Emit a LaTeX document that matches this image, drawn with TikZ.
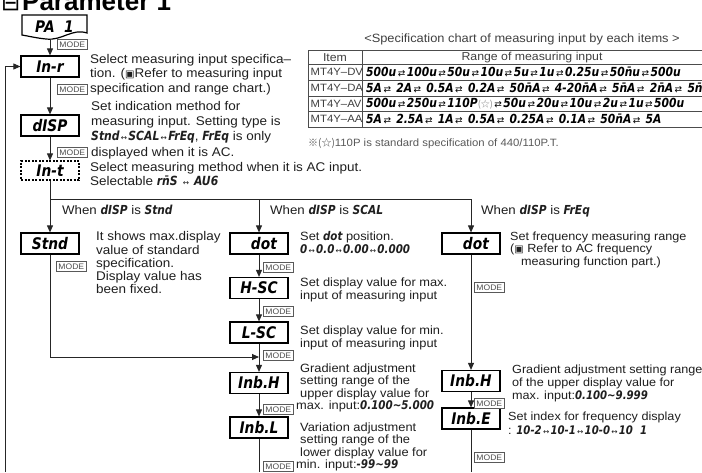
\documentclass[tikz,border=0pt]{standalone}
\usepackage{fontspec}
\usetikzlibrary{arrows.meta}
\setmainfont{Liberation Sans}[FakeStretch=1.07]
\newfontfamily\titlefont{Liberation Sans}
\newfontfamily\segfont{DejaVu Sans}[FakeStretch=0.86]
\newfontfamily\symfont{DejaVu Sans}
\newfontfamily\cjk{Noto Sans CJK SC}
\newcommand\sg[1]{{\segfont\bfseries\itshape #1}}
\newcommand\mylr{{\symfont\mdseries\upshape\fontsize{7.5}{7.5}\selectfont\,↔\,}}
\newcommand\myrl{{\symfont\mdseries\upshape\fontsize{9}{9}\selectfont\,⇄\,}}
\newcommand\boxsq{{\symfont\fontsize{10}{10}\selectfont ▣}}
\begin{document}
\begin{tikzpicture}[x=1pt,y=-1pt,
  disp/.style={draw, line width=1.2pt, fill=white, minimum width=58pt, minimum height=21pt, inner sep=0pt,
    font=\segfont\bfseries\itshape\fontsize{16}{16}\selectfont},
  modetag/.style={draw=black!65, line width=0.6pt, fill=white, minimum width=30pt, minimum height=10pt,
    inner sep=0pt, anchor=north west, text=black!70, font=\fontsize{8}{8}\selectfont},
  conn/.style={line width=0.9pt, draw=black!85},
  arr/.style={conn, -{Triangle[length=7pt,width=6pt]}},
  txt/.style 2 args={anchor=north west, inner sep=0pt, align=left, text=black!88, font=\fontsize{#1}{#2}\selectfont},
  lbl/.style={anchor=base west, inner sep=0pt, text=black!88, font=\fontsize{12.4}{14}\selectfont},
  tbl/.style={line width=0.8pt, draw=black!70},
  tabtxt/.style={inner sep=0pt, text=black!75, font=\fontsize{11.5}{13}\selectfont},
  rowlbl/.style={inner sep=0pt, anchor=west, text=black!75, font=\fontsize{10.6}{13}\selectfont},
  vals/.style={anchor=west, inner sep=0pt, font=\segfont\bfseries\itshape\fontsize{12.5}{12.5}\selectfont}
]
\useasboundingbox (0,0) rectangle (702,472);
\fill[white] (0,0) rectangle (702,472);

% title
\node[anchor=base west, inner sep=0pt, font=\symfont\fontsize{23}{23}\selectfont] (tsym) at (1,10) {⊟};
\node[anchor=base west, inner sep=0pt, font=\titlefont\bfseries\fontsize{26}{26}\selectfont] (title) at (22,10.5) {Parameter 1};

% PA 1 document shape
\draw[line width=1.2pt, fill=white] (22,15) -- (87,15) -- (87,33)
  .. controls (72,28) and (62,41) .. (46,39) .. controls (36,38) and (28,36) .. (22,35) -- cycle;
\node[minimum width=65pt, minimum height=24pt, inner sep=0pt,
  font=\segfont\bfseries\itshape\fontsize{16}{16}\selectfont] (pa) at (54.5,27) {\raisebox{1.5pt}{PA\ \ 1}};

% left column
\node[disp] (ir) at (50,66.5) {In-r};
\node[disp] (dsp) at (50,125.5) {dISP};
\node[disp, minimum height=19pt, dash pattern=on 2pt off 1.5pt] (int) at (50,170.5) {In-t};
\node[disp] (stnd) at (50,243.5) {Stnd};

% middle column
\node[disp] (dot2) at (259,243.5) {\hphantom{d}dot};
\node[disp] (hsc) at (259,288) {H-SC};
\node[disp] (lsc) at (259,332.5) {L-SC};
\node[disp] (ibh2) at (259,383) {Inb.H};
\node[disp] (ibl) at (259,427.5) {Inb.L};

% right column
\node[disp] (dot3) at (471,243.5) {\hphantom{d}dot};
\node[disp] (ibh3) at (471,381) {Inb.H};
\node[disp] (ibe) at (471,418.5) {Inb.E};

% connectors
\coordinate (br) at (50,199);
\coordinate (jn) at (259,357);
\coordinate (b1) at (5,472);
\coordinate (b2) at (259,472);
\coordinate (b3) at (471,472);
\draw[arr] (pa.south -| ir.north) -- (ir.north);
\draw[arr] (ir.south) -- (dsp.north);
\draw[arr] (dsp.south) -- (int.north);
\draw[arr] (int.south) -- (stnd.north);
\draw[conn] (br) -- (br -| dot3.north);
\draw[arr] (br -| dot2.north) -- (dot2.north);
\draw[arr] (br -| dot3.north) -- (dot3.north);
\draw[arr] (stnd.south) |- (jn);
\draw[arr] (b1) |- (ir.west);
\draw[arr] (dot2.south) -- (hsc.north);
\draw[arr] (hsc.south) -- (lsc.north);
\draw[arr] (lsc.south) -- (ibh2.north);
\draw[arr] (ibh2.south) -- (ibl.north);
\draw[conn] (ibl.south) -- (b2);
\draw[arr] (dot3.south) -- (ibh3.north);
\draw[arr] (ibh3.south) -- (ibe.north);
\draw[conn] (ibe.south) -- (b3);

% MODE tags
\node[modetag] (m1) at (57,39) {MODE};
\node[modetag] (m2) at (57,84) {MODE};
\node[modetag] (m3) at (57,147) {MODE};
\node[modetag] (m4) at (56,261) {MODE};
\node[modetag] (m5) at (263,262) {MODE};
\node[modetag] (m6) at (263,306) {MODE};
\node[modetag] (m7) at (263,350) {MODE};
\node[modetag] (m8) at (263,404) {MODE};
\node[modetag] (m9) at (263,461) {MODE};
\node[modetag] (m10) at (474,282) {MODE};
\node[modetag] (m11) at (474,398) {MODE};
\node[modetag] (m12) at (474,452) {MODE};

% descriptions
\node[txt={12.6}{14.5}] (tir) at (90,53) {\strut Select measuring input specifica–\\tion. (\boxsq Refer to measuring input\\specification and range chart.)};
\node[txt={12.6}{15.3}] (tdsp) at (91,99.4) {\strut Set indication method for\\measuring input. Setting type is\\\sg{Stnd}\mylr\sg{SCAL}\mylr\sg{FrEq}, \sg{FrEq} is only\\displayed when it is AC.};
\node[txt={12.6}{14}] (tint) at (90,161.3) {\strut Select measuring method when it is AC input.\\Selectable \sg{rn̄S} \mylr\ \sg{AU6}};

\node[lbl] (w1) at (62,214.3) {When \sg{dISP} is \sg{Stnd}};
\node[lbl] (w2) at (270,214.3) {When \sg{dISP} is \sg{SCAL}};
\node[lbl] (w3) at (481,214.3) {When \sg{dISP} is \sg{FrEq}};

\node[txt={12.6}{13}] (tstnd) at (96,231) {\strut It shows max.display\\value of standard\\specification.\\Display value has\\been fixed.};
\node[txt={12}{13}] (tdot2) at (300,231.2) {\strut Set \sg{dot} position.\\\sg{0\mylr 0.0\mylr 0.00\mylr 0.000}};
\node[txt={12}{13}] (thsc) at (300,277.2) {\strut Set display value for max.\\input of measuring input};
\node[txt={12}{13}] (tlsc) at (300,325.2) {\strut Set display value for min.\\input of measuring input};
\node[txt={12}{12.5}] (tibh2) at (300,363.5) {\strut Gradient adjustment\\setting range of the\\upper display value for\\\hspace*{-4pt}max. input:\sg{0.100{\char"7E}5.000}};
\node[txt={12}{12.5}] (tibl) at (300,422.5) {\strut Variation adjustment\\setting range of the\\lower display value for\\\hspace*{-4pt}min. input:\sg{-99{\char"7E}99}};

\node[txt={11.8}{12.3}] (tdot3) at (510,231.8) {\strut Set frequency measuring range\\(\boxsq\ Refer to AC frequency\\\hspace*{11pt}measuring function part.)};
\node[txt={11.8}{13.3}] (tibh3) at (512,363.6) {\strut Gradient adjustment setting range\\of the upper display value for\\max. input:\sg{0.100{\char"7E}9.999}};
\node[txt={11.8}{12.5}] (tibe) at (508,411.6) {\strut Set index for frequency display\\: \sg{10-2\mylr 10-1\mylr 10-0\mylr 10\ \ 1}};

% specification chart
\node[anchor=base, inner sep=0pt, text=black!75, font=\fontsize{12}{13}\selectfont] (cap) at (522,42.5) {<Specification chart of measuring input by each items >};
\foreach \yy in {50,64,80,96,111,127} \draw[tbl] (308,\yy) -- (712,\yy);
\draw[tbl] (308,50) -- (308,127);
\draw[tbl] (362,50) -- (362,127);
\node[tabtxt] (th1) at (335,57.5) {Item};
\node[tabtxt] (th2) at (532,57.5) {Range of measuring input};
\node[rowlbl] (r1) at (310.5,72) {MT4Y–DV};
\node[rowlbl] (r2) at (310.5,88) {MT4Y–DA};
\node[rowlbl] (r3) at (310.5,103.5) {MT4Y–AV};
\node[rowlbl] (r4) at (310.5,119) {MT4Y–AA};
\node[vals] (v1) at (366,72) {500u\myrl 100u\myrl 50u\myrl 10u\myrl 5u\myrl 1u\myrl 0.25u\myrl 50n̄u\myrl 500u};
\node[vals] (v2) at (366,88) {5A\myrl\ 2A\myrl\ 0.5A\myrl\ 0.2A\myrl\ 50n̄A\myrl\ 4-20n̄A\myrl\ 5n̄A\myrl\ 2n̄A\myrl\ 5n̄A};
\node[vals] (v3) at (366,103.5) {500u\myrl 250u\myrl 110P{\cjk\mdseries\upshape\color{black!45}\fontsize{9}{9}\selectfont(☆)}\myrl 50u\myrl 20u\myrl 10u\myrl 2u\myrl 1u\myrl 500u};
\node[vals] (v4) at (366,119) {5A\myrl\ 2.5A\myrl\ 1A\myrl\ 0.5A\myrl\ 0.25A\myrl\ 0.1A\myrl\ 50n̄A\myrl\ 5A};
\node[anchor=west, inner sep=0pt, text=black!65, font=\fontsize{10.6}{12}\selectfont] (fn) at (308,143) {{\cjk\fontsize{10}{12}\selectfont ※(☆)}110P is standard specification of 440/110P.T.};
\end{tikzpicture}
\end{document}
